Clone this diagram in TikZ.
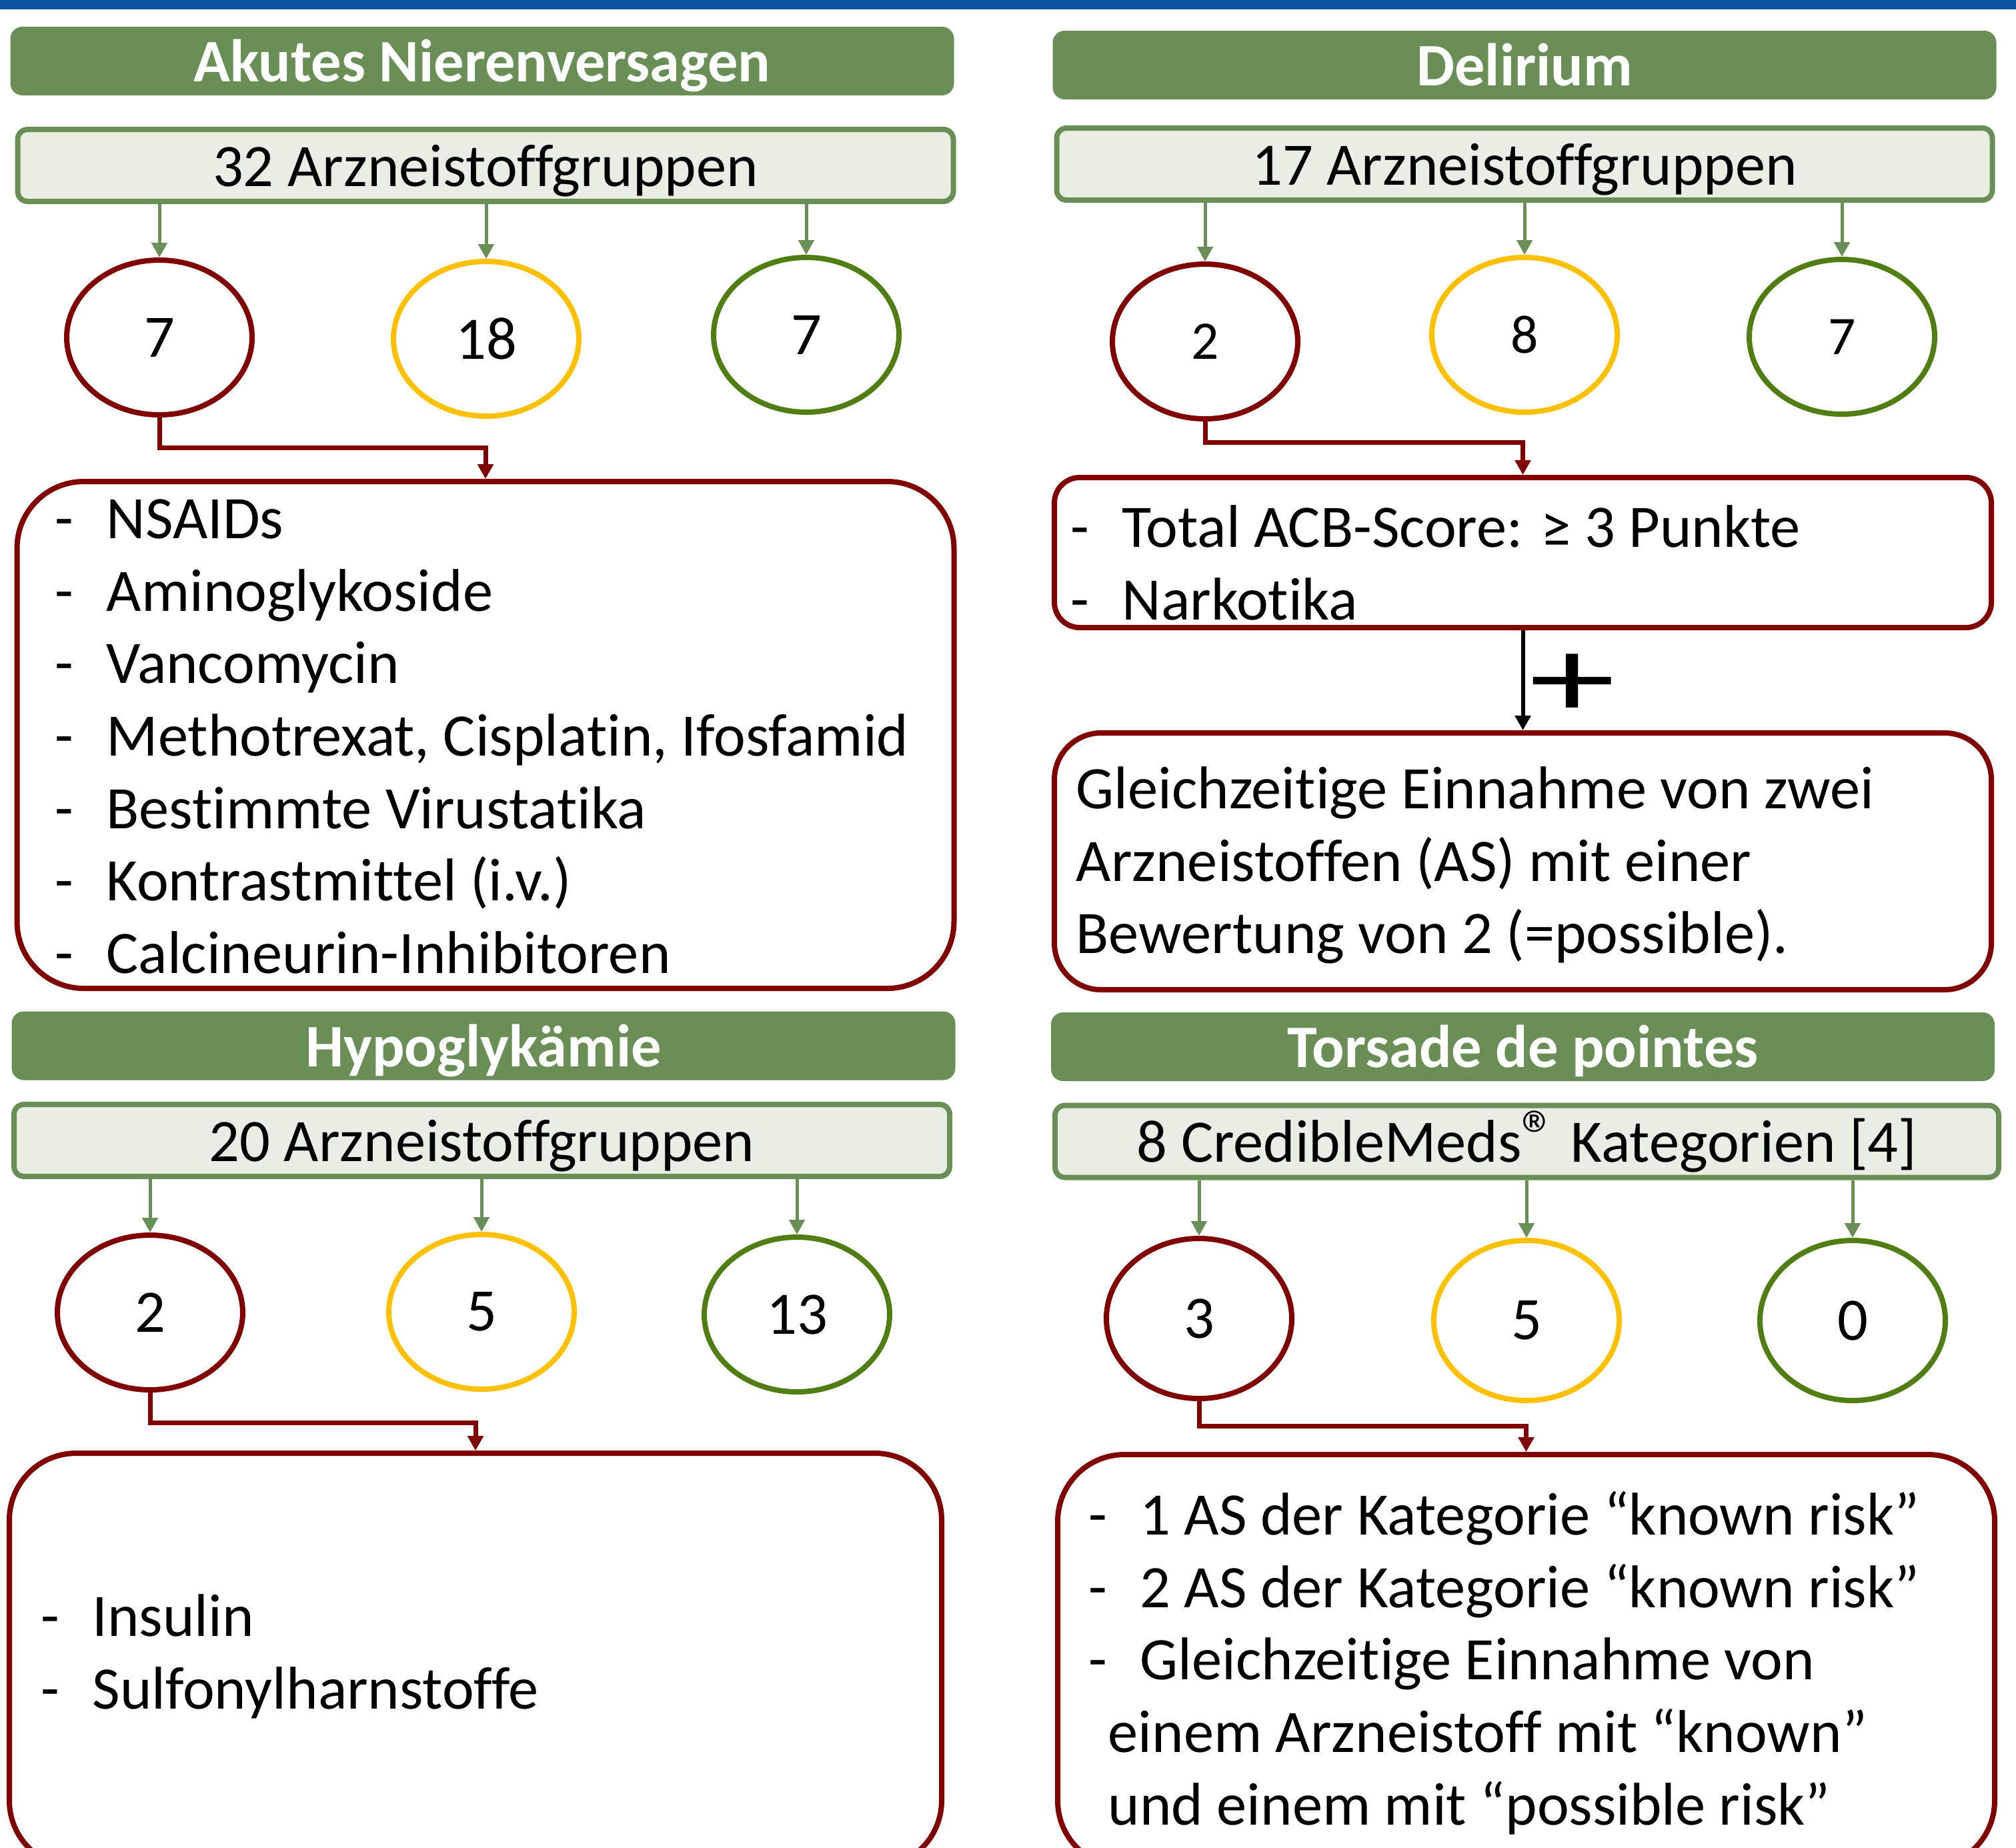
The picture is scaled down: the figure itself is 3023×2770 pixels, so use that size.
\documentclass[tikz,border=0pt]{standalone}
\usepackage{fontspec}
\setmainfont{Carlito}[Ligatures={NoCommon}]
\usetikzlibrary{shapes,arrows.meta}
\definecolor{hdrgreen}{HTML}{6A8F56}
\definecolor{boxfill}{HTML}{E8EEE3}
\definecolor{riskred}{HTML}{800000}
\definecolor{riskyellow}{HTML}{FFC000}
\definecolor{riskgreen}{HTML}{507E12}
\definecolor{topblue}{HTML}{0B52A0}
\newcommand{\dashitem}[1]{\makebox[7.7mm][l]{-}#1}
\newcommand{\regmark}{\raisebox{0.05em}{\fontsize{30}{30}\selectfont ®}}

\begin{document}
\begin{tikzpicture}[x=0.1mm,y=-0.1mm]
        \tikzstyle{every node}=[font=\fontsize{25.75}{30.9}\selectfont, inner sep=0pt]
        \tikzstyle{hdr}=[rectangle, rounded corners=1.8mm, fill=hdrgreen, text=white, font=\fontsize{25.75}{30.9}\selectfont\bfseries, minimum width=141.5mm, minimum height=10.3mm, text height=8mm, text depth=1.8mm]
        \tikzstyle{grp}=[rectangle, rounded corners=1.5mm, draw=hdrgreen, fill=boxfill, line width=0.8mm, minimum width=140.3mm, minimum height=10.8mm, text height=8mm, text depth=1.8mm]
        \tikzstyle{cnt}=[ellipse, line width=0.8mm, minimum width=27.8mm, minimum height=23.2mm]
        \tikzstyle{lst}=[rectangle, draw=riskred, line width=0.8mm, minimum width=140.5mm]
        \tikzstyle{txt}=[anchor=north west, align=left]
        \tikzstyle{garrow}=[draw=hdrgreen, line width=0.5mm, -{Triangle[length=2.2mm,width=2.3mm]}]
        \tikzstyle{rarrow}=[draw=riskred, line width=0.7mm, -{Triangle[length=2.2mm,width=2.3mm]}]
        \tikzstyle{barrow}=[draw=black, line width=0.6mm, -{Triangle[length=2.2mm,width=2.3mm]}]
        \useasboundingbox (0,0) rectangle (3023,2770);
        \fill[topblue] (0,0) rectangle (3023,14);

        % Akutes Nierenversagen
        \node[hdr] (nvhead) at (723,91.5) {Akutes Nierenversagen};
        \node[grp] (nvgroup) at (728,248) {32 Arzneistoffgruppen};
        \node[cnt, draw=riskred] (nvred) at (239,506) {7};
        \node[cnt, draw=riskyellow] (nvyellow) at (729,508) {18};
        \node[cnt, draw=riskgreen] (nvgreen) at (1209,502) {7};
        \node[lst, rounded corners=10mm, minimum height=76mm] (nvlist) at (728,1102) {};
        \node[txt] (nvtext) at (82,727) {\rule{0pt}{8mm}\dashitem{NSAIDs}\\ \dashitem{Aminoglykoside}\\ \dashitem{Vancomycin}\\ \dashitem{Methotrexat, Cisplatin, Ifosfamid}\\ \dashitem{Bestimmte Virustatika}\\ \dashitem{Kontrastmittel (i.v.)}\\ \dashitem{Calcineurin-Inhibitoren}};
        \foreach \c in {nvred,nvyellow,nvgreen}
                \draw[garrow] (\c |- nvgroup.south) -- (\c.north);
        \draw[rarrow] (nvred.south) -- ++(0,45) -| (nvlist.north);

        % Delirium
        \node[hdr] (dlhead) at (2286,97.5) {Delirium};
        \node[grp] (dlgroup) at (2286,246) {17 Arzneistoffgruppen};
        \node[cnt, draw=riskred, font=\fontsize{23.2}{27}\selectfont] (dlred) at (1807,512) {2};
        \node[cnt, draw=riskyellow, font=\fontsize{23.2}{27}\selectfont] (dlyellow) at (2286,502) {8};
        \node[cnt, draw=riskgreen, font=\fontsize{23.2}{27}\selectfont] (dlgreen) at (2762,505) {7};
        \node[lst, rounded corners=3.8mm, minimum height=22.5mm] (dllist) at (2283.5,828.5) {};
        \node[txt] (dltext) at (1605,740) {\rule{0pt}{8mm}\dashitem{Total ACB-Score: ≥ 3 Punkte}\\ \dashitem{Narkotika}};
        \node[lst, rounded corners=7mm, minimum height=38.5mm] (dlboth) at (2283.5,1291.5) {};
        \node[txt] (dlbothtext) at (1613,1132) {\rule{0pt}{8mm}Gleichzeitige Einnahme von zwei\\ Arzneistoffen (AS) mit einer\\ Bewertung von 2 (=possible).};
        \node[font=\fontsize{49}{49}\selectfont, xscale=1.5] (dlplus) at (2358,1028) {+};
        \foreach \c in {dlred,dlyellow,dlgreen}
                \draw[garrow] (\c |- dlgroup.south) -- (\c.north);
        \draw[rarrow] (dlred.south) -- ++(0,31) -| (dllist.north);
        \draw[barrow] (dllist.south) -- (dlboth.north);

        % Hypoglykaemie
        \node[hdr] (hghead) at (725,1568) {Hypoglykämie};
        \node[grp] (hggroup) at (722.5,1710) {20 Arzneistoffgruppen};
        \node[cnt, draw=riskred] (hgred) at (225,1968) {2};
        \node[cnt, draw=riskyellow] (hgyellow) at (722,1967) {5};
        \node[cnt, draw=riskgreen] (hggreen) at (1195,1971) {13};
        \node[lst, rounded corners=10mm, minimum width=139.8mm, minimum height=62.1mm] (hglist) at (713,2489.5) {};
        \node[txt] (hgtext) at (61,2373) {\rule{0pt}{8mm}\dashitem{Insulin}\\ \dashitem{Sulfonylharnstoffe}};
        \foreach \c in {hgred,hgyellow,hggreen}
                \draw[garrow] (\c |- hggroup.south) -- (\c.north);
        \draw[rarrow] (hgred.south) -- ++(0,45) -| (hglist.north);

        % Torsade de pointes
        \node[hdr] (tphead) at (2283.5,1569.5) {Torsade de pointes};
        \node[grp, minimum width=141.5mm] (tpgroup) at (2289.5,1711.5) {8 CredibleMeds\regmark{} Kategorien [4]};
        \node[cnt, draw=riskred, minimum height=24mm] (tpred) at (1798,1977) {3};
        \node[cnt, draw=riskyellow, minimum height=24mm] (tpyellow) at (2289,1980) {5};
        \node[cnt, draw=riskgreen, minimum height=24mm] (tpgreen) at (2778,1980) {0};
        \node[lst, rounded corners=10mm, minimum height=61.9mm] (tplist) at (2288.5,2490.5) {};
        \node[txt] (tptext) at (1632,2221) {\rule{0pt}{8mm}\dashitem{1 AS der Kategorie “known risk”}\\ \dashitem{2 AS der Kategorie “known risk”}\\ \dashitem{Gleichzeitige Einnahme von}\\ \hspace*{2.9mm}einem Arzneistoff mit “known”\\ \hspace*{2.9mm}und einem mit “possible risk”};
        \foreach \c in {tpred,tpyellow,tpgreen}
                \draw[garrow] (\c |- tpgroup.south) -- (\c.north);
        \draw[rarrow] (tpred.south) -- ++(0,37) -| (tplist.north);
\end{tikzpicture}
\end{document}
